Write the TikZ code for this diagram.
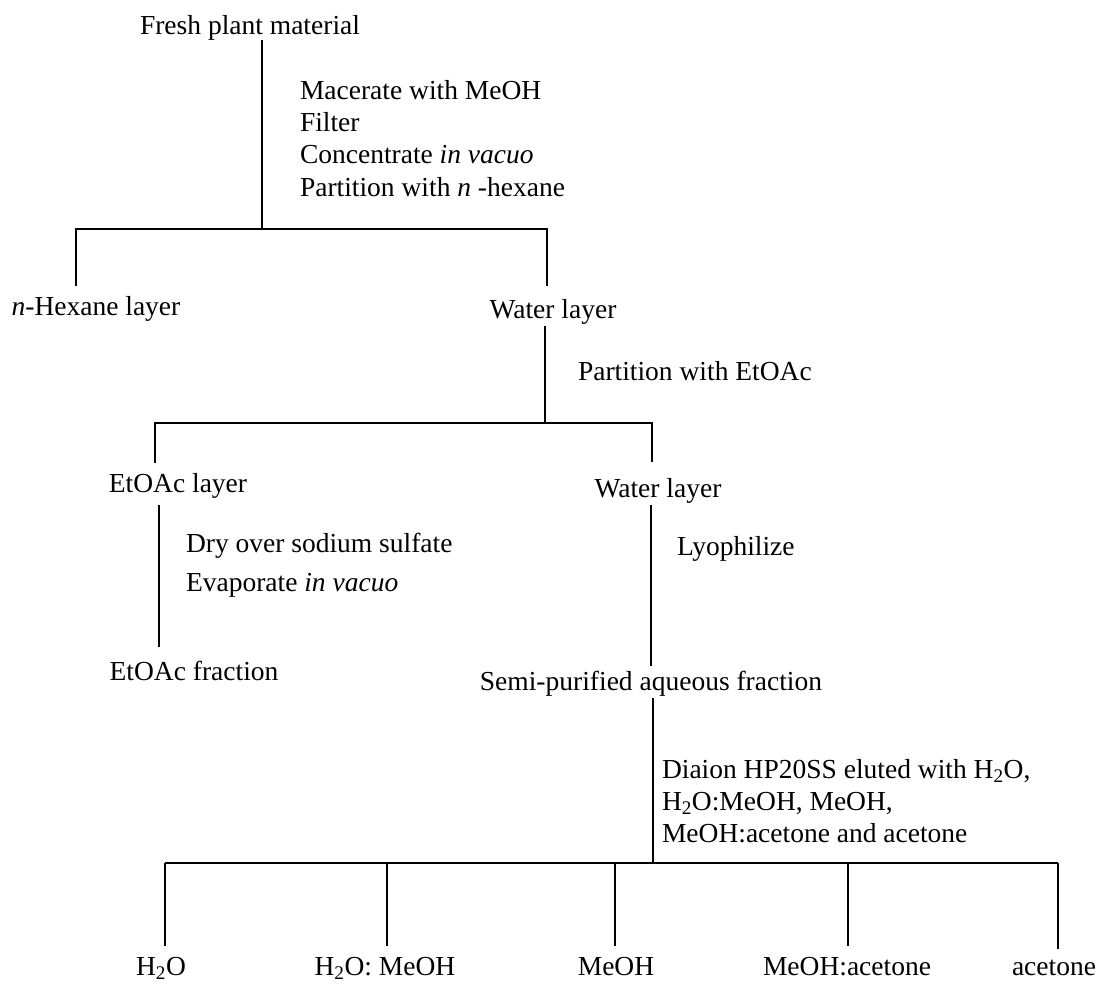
\documentclass[tikz,border=0pt]{standalone}
\usepackage{fontspec}
\setmainfont{Liberation Serif}

\begin{document}
\begin{tikzpicture}[x=1pt,y=-1pt,line width=1.5pt]
        \tikzstyle{every node}=[inner sep=0pt,outer sep=0pt,font=\fontsize{27.5}{32}\selectfont]
        \tikzstyle{layer}=[anchor=base]
        \tikzstyle{treat}=[anchor=base west]
        \useasboundingbox (0,0) rectangle (1098,983);
        % extraction
        \node[layer] (fresh) at (250,34) {Fresh plant material};
        \node[treat] (mac1) at (300,99) {Macerate with MeOH};
        \node[treat] (mac2) at (300,131) {Filter};
        \node[treat] (mac3) at (300,163) {Concentrate \textit{in vacuo}};
        \node[treat] (mac4) at (300,196) {Partition with \textit{n} -hexane};
        \node[layer] (hexane) at (96,315) {\textit{n}-Hexane layer};
        \node[layer] (water1) at (553,318) {Water layer};
        \coordinate (j1) at (262,229);
        \coordinate (j1l) at (76,229);
        \coordinate (j1r) at (547,229);
        \draw (fresh.south -| j1) -- (j1);
        \draw ([yshift=10pt]hexane.north -| j1l) -- (j1l) -- (j1r) -- ([yshift=13pt]water1.north -| j1r);
        % EtOAc partition
        \node[treat] (part) at (578,380) {Partition with EtOAc};
        \node[layer] (etoac) at (178,492) {EtOAc layer};
        \node[layer] (water2) at (658,497) {Water layer};
        \coordinate (j2) at (545,423);
        \coordinate (j2l) at (155,423);
        \coordinate (j2r) at (652,423);
        \draw ([yshift=-2pt]water1.south -| j2) -- (j2);
        \draw ([yshift=10pt]etoac.north -| j2l) -- (j2l) -- (j2r) -- ([yshift=16pt]water2.north -| j2r);
        % EtOAc side
        \node[treat] (dry) at (186,552) {Dry over sodium sulfate};
        \node[treat] (evap) at (186,591) {Evaporate \textit{in vacuo}};
        \node[layer] (efrac) at (194,680) {EtOAc fraction};
        \coordinate (k1) at (159,0);
        \draw ([yshift=-7pt]etoac.south -| k1) -- ([yshift=14pt]efrac.north -| k1);
        % aqueous side
        \node[treat] (lyo) at (677,555) {Lyophilize};
        \node[layer] (semi) at (651,690) {Semi-purified aqueous fraction};
        \coordinate (k2) at (651,0);
        \draw ([yshift=-2pt]water2.south -| k2) -- ([yshift=5pt]semi.north -| k2);
        % Diaion column
        \node[treat] (dia1) at (662,778) {Diaion HP20SS eluted with H\textsubscript{2}O,};
        \node[treat] (dia2) at (662,810) {H\textsubscript{2}O:MeOH, MeOH,};
        \node[treat] (dia3) at (662,842) {MeOH:acetone and acetone};
        \coordinate (j4) at (653,863);
        \draw ([yshift=-2pt]semi.south -| j4) -- (j4);
        \foreach \i/\xd/\xt/\txt in {1/165/161/H\textsubscript{2}O,2/387/385/H\textsubscript{2}O: MeOH,3/615/616/MeOH,4/848/847/MeOH:acetone,5/1058/1054/acetone}{
            \node[layer] (frac\i) at (\xt,975) {\txt};
            \coordinate (bar\i) at (\xd,863);
            \draw (bar\i) -- ([yshift=11pt]frac\i.north -| bar\i);
        }
        \draw[line width=2.2pt] (bar1) -- (bar5);
    \end{tikzpicture}
\end{document}
